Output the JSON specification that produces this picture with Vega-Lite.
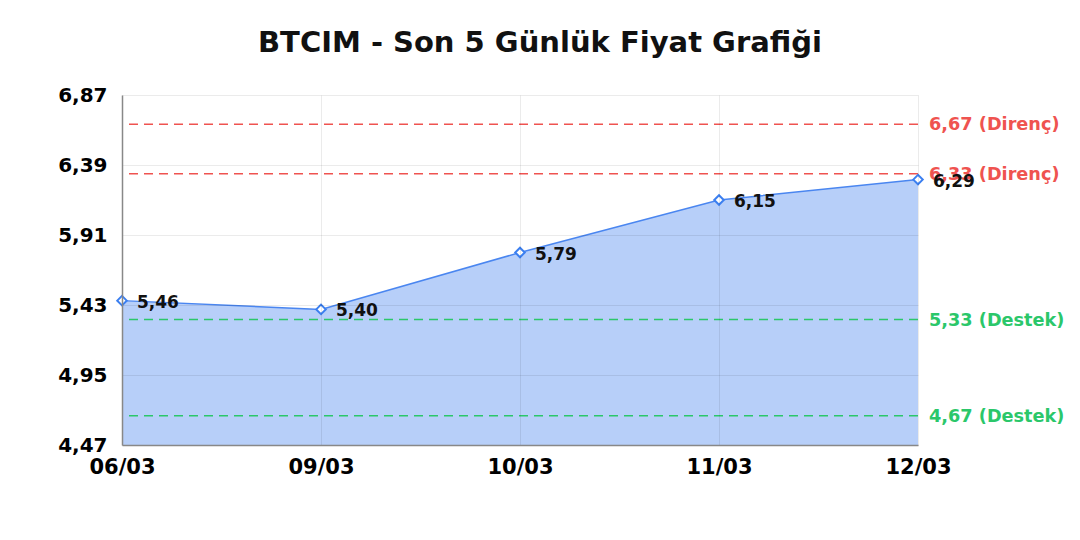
{
  "$schema": "https://vega.github.io/schema/vega-lite/v6.json",
  "width": 796,
  "height": 350,
  "autosize": "none",
  "padding": {"left": 122, "top": 95, "right": 162, "bottom": 95},
  "background": "white",
  "title": {
    "text": "BTCIM - Son 5 Günlük Fiyat Grafiği",
    "font": "DejaVu Sans",
    "fontSize": 29,
    "fontWeight": "bold",
    "color": "#111111",
    "anchor": "middle",
    "dx": 20,
    "offset": 27
  },
  "config": {
    "view": {"stroke": null},
    "font": "DejaVu Sans"
  },
  "datasets": {
    "prices": [
      {"tarih": "06/03", "fiyat": 5.46},
      {"tarih": "09/03", "fiyat": 5.40},
      {"tarih": "10/03", "fiyat": 5.79},
      {"tarih": "11/03", "fiyat": 6.15},
      {"tarih": "12/03", "fiyat": 6.29}
    ],
    "levels": [
      {"seviye": 6.67, "etiket": "6,67 (Direnç)", "tur": "Direnç"},
      {"seviye": 6.33, "etiket": "6,33 (Direnç)", "tur": "Direnç"},
      {"seviye": 5.33, "etiket": "5,33 (Destek)", "tur": "Destek"},
      {"seviye": 4.67, "etiket": "4,67 (Destek)", "tur": "Destek"}
    ]
  },
  "layer": [
    {
      "data": {"name": "prices"},
      "mark": {"type": "area", "color": "#b7cff9", "opacity": 1, "line": {"color": "#4a86f0", "strokeWidth": 1.5}},
      "encoding": {
        "x": {
          "field": "tarih",
          "type": "ordinal",
          "scale": {"type": "point", "padding": 0},
          "axis": {
            "title": null,
            "labelAngle": 0,
            "labelFont": "DejaVu Sans",
            "labelFontSize": 21,
            "labelFontWeight": "bold",
            "labelColor": "#000000",
            "labelPadding": 11,
            "ticks": false,
            "domainColor": "#888888",
            "domainWidth": 1.5,
            "grid": true,
            "gridColor": "#000000",
            "gridOpacity": 0.08,
            "zindex": 1
          }
        },
        "y": {
          "field": "fiyat",
          "type": "quantitative",
          "scale": {"domain": [4.47, 6.87], "zero": false, "nice": false},
          "axis": {
            "title": null,
            "values": [4.47, 4.95, 5.43, 5.91, 6.39, 6.87],
            "labelExpr": "replace(format(datum.value, '.2f'), '.', ',')",
            "labelFont": "DejaVu Sans",
            "labelFontSize": 20,
            "labelFontWeight": "bold",
            "labelColor": "#000000",
            "labelPadding": 15,
            "ticks": false,
            "domainColor": "#888888",
            "domainWidth": 1.5,
            "gridColor": "#000000",
            "gridOpacity": 0.08,
            "zindex": 1
          }
        },
        "y2": {"datum": 4.47}
      }
    },
    {
      "data": {"name": "levels"},
      "mark": {"type": "rule", "strokeDash": [9, 6], "strokeWidth": 1.5},
      "encoding": {
        "y": {"field": "seviye", "type": "quantitative"},
        "color": {
          "field": "tur",
          "type": "nominal",
          "scale": {"domain": ["Direnç", "Destek"], "range": ["#ef5350", "#2bc76a"]},
          "legend": null
        }
      }
    },
    {
      "data": {"name": "levels"},
      "mark": {"type": "text", "align": "left", "baseline": "middle", "dx": 11, "dy": 1, "fontSize": 17.7, "fontWeight": "bold", "font": "DejaVu Sans"},
      "encoding": {
        "x": {"datum": "12/03"},
        "y": {"field": "seviye", "type": "quantitative"},
        "text": {"field": "etiket"},
        "color": {
          "field": "tur",
          "type": "nominal",
          "scale": {"domain": ["Direnç", "Destek"], "range": ["#ef5350", "#2bc76a"]},
          "legend": null
        }
      }
    },
    {
      "data": {"name": "prices"},
      "mark": {"type": "point", "shape": "diamond", "filled": true, "fill": "white", "stroke": "#3b7ff0", "strokeWidth": 2, "size": 90, "opacity": 1},
      "encoding": {
        "x": {"field": "tarih", "type": "ordinal"},
        "y": {"field": "fiyat", "type": "quantitative"}
      }
    },
    {
      "data": {"name": "prices"},
      "transform": [{"calculate": "replace(format(datum.fiyat, '.2f'), '.', ',')", "as": "etiket"}],
      "mark": {"type": "text", "align": "left", "baseline": "middle", "dx": 15, "dy": 2, "fontSize": 17, "fontWeight": "bold", "font": "DejaVu Sans", "color": "#111111"},
      "encoding": {
        "x": {"field": "tarih", "type": "ordinal"},
        "y": {"field": "fiyat", "type": "quantitative"},
        "text": {"field": "etiket"}
      }
    }
  ]
}
